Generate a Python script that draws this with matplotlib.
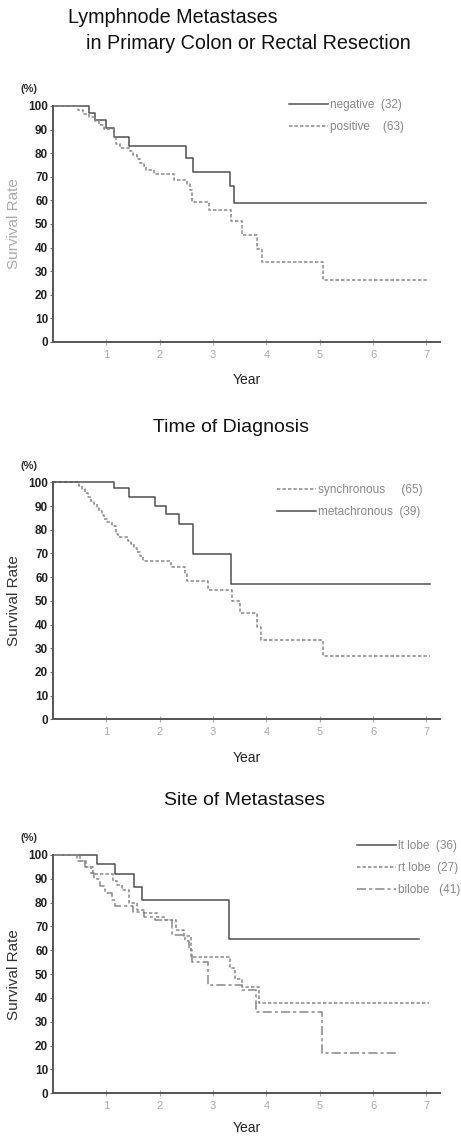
import numpy as np
import matplotlib
matplotlib.use("Agg")
import matplotlib.pyplot as plt

plt.rcParams['font.family'] = ['Liberation Sans', 'DejaVu Sans']

# ---- data ----
years = [1, 2, 3, 4, 5, 6, 7]
rate_ticks = [0, 10, 20, 30, 40, 50, 60, 70, 80, 90, 100]

# panel 1: lymphnode metastases
neg_t = [0, 0.68, 0.79, 1.0, 1.15, 1.42, 2.5, 2.62, 3.32, 3.4, 7.0]
neg_s = [100, 97, 94, 90.6, 87, 83, 78, 72, 66, 58.7, 58.7]
pos_t = [0, 0.46, 0.56, 0.68, 0.78, 0.87, 0.95, 1.14, 1.18, 1.25, 1.44, 1.5, 1.57,
         1.63, 1.7, 1.75, 1.9, 2.27, 2.52, 2.57, 2.61, 2.93, 3.33, 3.54, 3.83, 3.92,
         5.07, 7.05]
pos_s = [100, 98.4, 96.8, 95.2, 93.6, 92, 90.4, 87.2, 84, 82.4, 80.8, 79.2, 77.6,
         76, 74.4, 72.8, 71, 68.5, 66.9, 64.3, 59.5, 55.8, 51.2, 45.4, 39.6, 33.8,
         26.3, 26.3]

# panel 2: time of diagnosis
syn_t = [0, 0.48, 0.54, 0.6, 0.66, 0.72, 0.77, 0.82, 0.87, 0.91, 0.96, 1.02, 1.1,
         1.18, 1.22, 1.41, 1.47, 1.52, 1.58, 1.63, 1.69, 2.22, 2.47, 2.52, 2.91,
         3.35, 3.51, 3.82, 3.9, 5.07, 7.07]
syn_s = [100, 98.5, 97, 95.4, 93.9, 92.3, 90.8, 89.2, 87.7, 86.2, 84.6, 83.1, 81.5,
         78.4, 76.9, 75.3, 73.8, 72.2, 70.7, 69.1, 67, 64.1, 61.5, 58.5, 54.6,
         50, 45, 39, 33.4, 26.6, 26.6]
met_t = [0, 1.15, 1.43, 1.91, 2.11, 2.36, 2.62, 3.34, 7.07]
met_s = [100, 97.5, 93.9, 90.1, 86.6, 82.6, 69.7, 57.3, 57.3]

# panel 3: site of metastases
lt_t = [0, 0.83, 1.17, 1.51, 1.67, 3.3, 6.86]
lt_s = [100, 96.1, 91.9, 86.6, 81, 64.7, 64.7]
rt_t = [0, 0.5, 0.62, 0.75, 1.12, 1.2, 1.3, 1.42, 1.58, 1.7, 1.95, 2.1, 2.3, 2.45,
        2.58, 3.32, 3.42, 3.55, 3.86, 7.05]
rt_s = [100, 97.5, 95, 92, 89, 87.5, 85.5, 80, 77, 75.5, 74, 72.5, 68.5, 66,
        57, 52.5, 48, 44.5, 37.8, 37.8]
bi_t = [0, 0.45, 0.6, 0.72, 0.76, 0.88, 0.98, 1.1, 1.17, 1.5, 1.7, 1.92, 2.23,
        2.48, 2.55, 2.6, 2.9, 3.55, 3.8, 5.04, 6.48]
bi_s = [100, 97.5, 95, 92.5, 90, 87, 84, 81, 78.5, 76, 74, 72.5, 66.5,
        64, 60, 55, 45.5, 43.5, 34, 17, 17]

SOLID = '-'
DASH = (0, (2.2, 1.4))
DASHDOT = (0, (6, 2, 2, 2))


def setup_axes(ax, ylabel_color, xlabel_pad=10):
    ax.set_xlim(0, 7.25)
    ax.set_ylim(0, 100)
    for side in ('top', 'right'):
        ax.spines[side].set_visible(False)
    for side in ('left', 'bottom'):
        ax.spines[side].set_color('#555555')
        ax.spines[side].set_linewidth(1.4)
    ax.set_yticks(rate_ticks)
    ax.set_yticklabels([str(v) for v in rate_ticks], fontsize=8.5,
                       fontweight='bold', color='#222222')
    ax.set_xticks(years)
    ax.set_xticklabels([str(v) for v in years], fontsize=8, color='#aaaaaa')
    ax.tick_params(axis='y', direction='out', length=2.5, width=0.8,
                   color='#777777', pad=1)
    ax.tick_params(axis='x', direction='inout', length=5, width=0.8,
                   color='#aaaaaa', pad=3)
    ax.set_ylabel('Survival Rate', fontsize=11, color=ylabel_color, labelpad=5)
    ax.set_xlabel('Year', fontsize=10, color='#222222', labelpad=xlabel_pad)
    ax.text(-0.04, 1.07, '(%)', transform=ax.transAxes, fontsize=8,
            color='#333333', ha='right', va='center', fontweight='bold')


def km(ax, t, s, ls, color, label):
    ax.step(t, s, where='post', linestyle=ls, color=color, lw=1.1,
            label=label, clip_on=False)


fig = plt.figure(figsize=(4.61, 11.36), dpi=100)

# panel 1
ax1 = fig.add_axes([0.115, 0.699, 0.839, 0.2077])
setup_axes(ax1, '#aaaaaa')
km(ax1, neg_t, neg_s, SOLID, '#505050', 'negative  (32)')
km(ax1, pos_t, pos_s, DASH, '#888888', 'positive    (63)')
fig.text(0.148, 0.985, 'Lymphnode Metastases', fontsize=14.2, color='#111111',
         ha='left', va='center')
fig.text(0.187, 0.962, 'in Primary Colon or Rectal Resection', fontsize=14.2,
         color='#111111', ha='left', va='center')

# panel 2
ax2 = fig.add_axes([0.115, 0.3668, 0.839, 0.2086])
setup_axes(ax2, '#333333')
km(ax2, syn_t, syn_s, DASH, '#888888', 'synchronous     (65)')
km(ax2, met_t, met_s, SOLID, '#505050', 'metachronous  (39)')
fig.text(0.501, 0.624, 'Time of Diagnosis', fontsize=14, color='#111111',
         ha='center', va='center')

# panel 3
ax3 = fig.add_axes([0.115, 0.0376, 0.839, 0.2098])
setup_axes(ax3, '#333333', xlabel_pad=7)
km(ax3, lt_t, lt_s, SOLID, '#505050', 'lt lobe  (36)')
km(ax3, rt_t, rt_s, DASH, '#888888', 'rt lobe  (27)')
km(ax3, bi_t, bi_s, DASHDOT, '#888888', 'bilobe   (41)')
fig.text(0.53, 0.295, 'Site of Metastases', fontsize=14, color='#111111',
         ha='center', va='center')

for ax, anchor in ((ax1, (0.598, 1.05)), (ax2, (0.567, 1.013)), (ax3, (0.773, 1.084))):
    leg = ax.legend(loc='upper left', bbox_to_anchor=anchor, frameon=False,
                    fontsize=8.5, handlelength=3.3, handletextpad=0.2,
                    labelspacing=0.85, borderaxespad=0)
    for txt in leg.get_texts():
        txt.set_color('#888888')

fig.savefig('out.png', dpi=100)
